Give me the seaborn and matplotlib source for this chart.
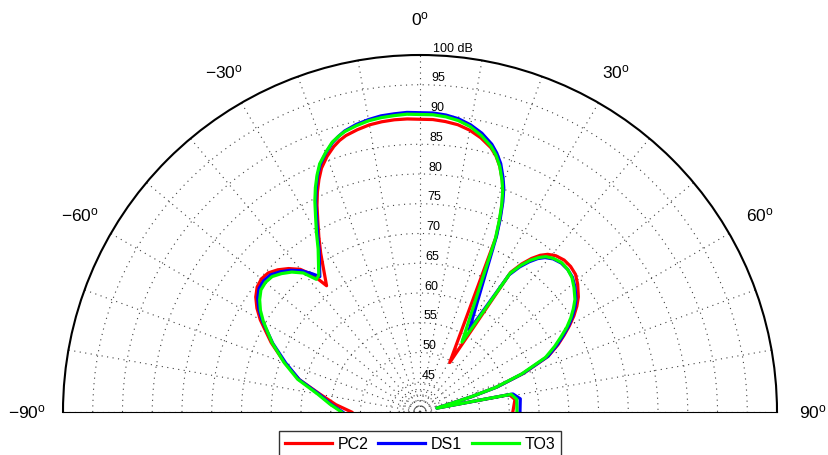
import numpy as np
import pandas as pd
import matplotlib
matplotlib.use("Agg")
import matplotlib.pyplot as plt
import seaborn as sns

# ---------------- data ----------------
angles_deg = [-90, -85, -80, -75, -70, -65, -60, -57.5, -55, -52.5, -50, -47.5, -45, -42.5,
              -40, -38, -36.5, -32, -30, -28, -26.5, -25, -23.5, -22, -20, -18, -16.5, -15,
              -12.5, -10, -7.5, -5, -2.5, 0, 2.5, 5, 7.5, 10, 12.5, 15, 16.5, 18, 19.5, 20.5,
              21.5, 22.5, 23.5, 31, 33, 34.5, 36, 37.5, 39, 41, 43.5, 46, 48.5, 51, 54, 56,
              58, 60, 62, 64, 66.5, 69.5, 72, 73.5, 77, 79, 82.5, 90]

pc2 = [51.5, 54.2, 57.0, 61.0, 64.2, 67.6, 71.0, 72.5, 73.7, 74.5, 74.8, 74.6, 73.8, 72.7,
       71.3, 69.2, 66.4, 71.5, 74.0, 76.6, 78.8, 80.8, 82.6, 84.2, 85.7, 86.9, 87.6, 88.1,
       88.6, 89.0, 89.2, 89.3, 89.3, 89.2, 89.2, 89.0, 88.7, 88.1, 87.2, 86.0, 84.9, 83.4, 81.4, 79.8,
       77.7, 75.0, 72.0, 49.7, 68.0, 70.2, 71.9, 73.2, 74.1, 74.8, 75.2, 75.2, 74.9, 74.1, 72.9, 71.8,
       70.5, 69.0, 67.4, 65.8, 63.5, 58.6, 53.6, 49.0, 43.0, 55.3, 56.1, 55.6]

ds1 = [53.0, 55.0, 57.2, 61.0, 64.0, 67.3, 70.6, 72.1, 73.3, 74.1, 74.3, 74.1, 73.3, 72.3,
       71.0, 69.5, 68.3, 72.0, 74.4, 77.0, 79.3, 81.3, 83.2, 84.8, 86.3, 87.6, 88.3, 88.9,
       89.5, 89.9, 90.2, 90.3, 90.4, 90.3, 90.3, 90.1, 89.7, 89.0, 88.0, 86.6, 85.4, 83.9, 81.8, 80.2,
       78.0, 75.3, 72.3, 56.0, 67.5, 69.6, 71.2, 72.5, 73.4, 74.1, 74.5, 74.5, 74.2, 73.5, 72.4, 71.4,
       70.2, 68.8, 67.2, 65.6, 63.4, 58.5, 53.6, 49.0, 42.9, 55.9, 57.0, 56.8]

to3 = [53.2, 55.2, 57.5, 61.3, 64.3, 67.4, 70.4, 71.8, 72.9, 73.7, 73.9, 73.7, 72.9, 71.9,
       70.5, 68.3, 68.6, 72.3, 74.8, 77.4, 79.6, 81.6, 83.4, 85.0, 86.4, 87.7, 88.3, 88.8,
       89.3, 89.7, 89.9, 90.0, 90.1, 90.0, 90.0, 89.8, 89.4, 88.7, 87.6, 86.2, 85.0, 83.4, 81.3, 79.7,
       77.5, 74.8, 71.8, 53.7, 67.8, 69.9, 71.5, 72.7, 73.6, 74.2, 74.6, 74.5, 74.1, 73.3, 72.2, 71.1,
       69.9, 68.5, 66.8, 65.2, 63.0, 58.2, 53.4, 48.8, 42.9, 55.6, 56.4, 56.3]

series_names = ["PC2", "DS1", "TO3"]
series_colors = ["#FF0000", "#0000FF", "#00FF00"]

ring_values = [45, 50, 55, 60, 65, 70, 75, 80, 85, 90, 95]
inner_rings = [41.0, 41.85, 42.7, 43.5]
spoke_angles = list(range(-90, 91, 10))
angle_labels = [-90, -60, -30, 0, 30, 60, 90]
r_min, r_max = 40, 100

# ---------------- style ----------------
plt.rcParams["font.family"] = ["Liberation Sans", "DejaVu Sans"]
plt.rcParams["mathtext.fontset"] = "custom"
plt.rcParams["mathtext.rm"] = "Liberation Sans"
plt.rcParams["mathtext.it"] = "Liberation Sans:italic"
plt.rcParams["mathtext.bf"] = "Liberation Sans:bold"

df = pd.concat([
    pd.DataFrame({"theta": np.deg2rad(angles_deg), "dB": vals, "series": name})
    for name, vals in zip(series_names, [pc2, ds1, to3])
], ignore_index=True)

W, H = 829, 455
cx, cy, R = 420, 412, 357  # pixel centre and radius of the half-disc
fig = plt.figure(figsize=(W / 100, H / 100), dpi=100)
# a half-polar wedge is padded to a square box, centre sits at 25% of its height
box = 2 * R
ax = fig.add_axes([(cx - R) / W, (H - (cy + 0.25 * box)) / H, box / W, box / H],
                  projection="polar")
ax.set_theta_zero_location("N")
ax.set_theta_direction(-1)

sns.lineplot(data=df, x="theta", y="dB", hue="series", hue_order=series_names,
             palette=series_colors, sort=False, estimator=None, linewidth=2.3,
             ax=ax, legend=False)

ax.set_thetamin(-90)
ax.set_thetamax(90)
ax.set_rlim(r_min, r_max)
ax.set_xlabel("")
ax.set_ylabel("")

ax.set_thetagrids(spoke_angles, labels=[""] * len(spoke_angles))
ax.set_rgrids(inner_rings + ring_values, labels=[""] * (len(inner_rings) + len(ring_values)))
ax.grid(True, color="0.25", linestyle=(0, (1, 4)), linewidth=0.8)
ax.tick_params(length=0)

for name in ["start", "end", "inner"]:
    ax.spines[name].set_visible(False)
ax.spines["polar"].set_linewidth(1.5)
ax.spines["polar"].set_color("black")

# ring labels
for v in ring_values:
    ax.text(np.deg2rad(2), v + 1.1, str(v), ha="left", va="center", fontsize=9)
ax.text(np.deg2rad(2), r_max + 1.1, "100 dB", ha="left", va="center", fontsize=9)

# angle labels
for a in angle_labels:
    s = ("\u2212" if a < 0 else "") + str(abs(a)) + r"$^{\mathrm{o}}$"
    ax.text(np.deg2rad(a), r_min + (r_max - r_min) * 1.1, s, ha="center", va="center",
            fontsize=12.5)

handles = ax.get_lines()[:3]
leg = fig.legend(handles, series_names, loc="upper center",
                 bbox_to_anchor=(cx / W, 1 - 431 / H), ncol=3, frameon=True,
                 fancybox=False, edgecolor="black", fontsize=11.5, handlelength=2.95,
                 handletextpad=0.35, columnspacing=0.6, borderpad=0.35,
                 borderaxespad=0)
leg.get_frame().set_linewidth(1.0)

fig.savefig("out.png", dpi=100)
